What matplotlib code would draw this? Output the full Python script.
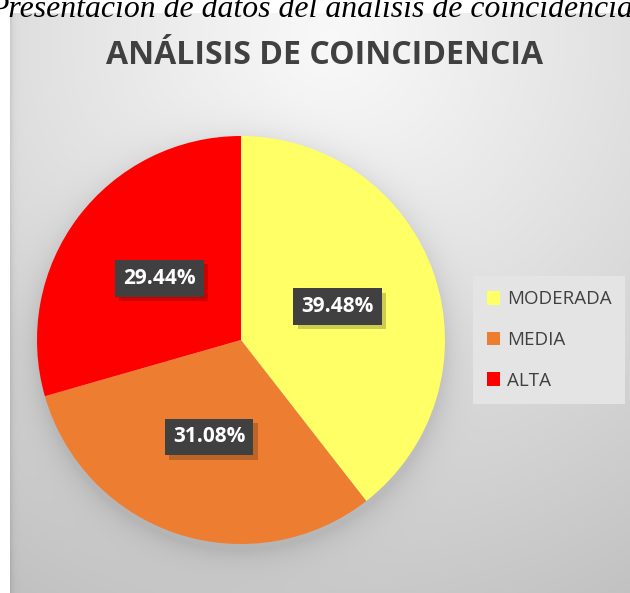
import numpy as np
import matplotlib
matplotlib.use("Agg")
import matplotlib.pyplot as plt
import matplotlib.patheffects as pe

# Coincidence levels and their share of the total
categories = ["MODERADA", "MEDIA", "ALTA"]
shares = [39.48, 31.08, 29.44]
colors = ["#FFFF66", "#ED7D31", "#FF0000"]

caption = "Presentación de datos del análisis de coincidencia"
title = "ANÁLISIS DE COINCIDENCIA"

W, H = 630, 593
fig = plt.figure(figsize=(W / 100, H / 100), dpi=100)
fig.patch.set_facecolor("white")

# caption line above the chart frame (top is clipped by the page edge)
fig.text(311 / W, 1 - 17 / H, caption, ha="center", va="baseline",
         fontsize=22.9, style="italic", family="Liberation Serif", color="black")

# chart frame with a radial gray gradient
fx0, fy0 = 10, 13
bg_ax = fig.add_axes([fx0 / W, 0, 1 - fx0 / W, 1 - fy0 / H])
bg_ax.set_axis_off()
yy, xx = np.mgrid[fy0:H, fx0:W].astype(float)
r = np.hypot(xx - 330, (yy - 40) * 1.0)
shade = 0.975 - 0.22 * np.clip(r / 640, 0, 1) ** 1.1
# soft shadow around the pie
pcx, pcy, prad = 241, 346, 204
d = np.hypot(xx - pcx, yy - pcy) - prad
shade -= 0.09 * np.exp(-np.clip(d, 0, None) / 14) * (d > -30)
# thin darker edge on the left side of the frame
shade -= 0.08 * np.exp(-(xx - fx0) / 3)
img = np.dstack([shade] * 3)
bg_ax.imshow(np.clip(img, 0, 1), aspect="auto", interpolation="bilinear")

# title
fig.text(0.515, 1 - 56 / H, title, ha="center", va="center",
         fontsize=23, fontweight="bold", family="Open Sans", color="#404040")

# pie
cx, cy, rad = 241, 340, 204
ax = fig.add_axes([(cx - rad) / W, (H - cy - rad) / H, 2 * rad / W, 2 * rad / H])
wedges, _, autotexts = ax.pie(
    shares, colors=colors, startangle=90, counterclock=False,
    autopct=lambda p: f"{p:.2f}%", pctdistance=0.5, radius=1,
    wedgeprops=dict(linewidth=0),
)
ax.set_xlim(-1, 1)
ax.set_ylim(-1, 1)
ax.set_aspect("equal")

for t in autotexts:
    t.set_color("white")
    t.set_fontsize(15)
    t.set_fontweight("bold")
    t.set_family("Open Sans")
    t.set_bbox(dict(boxstyle="square,pad=0.38", facecolor="#404040",
                    edgecolor="none",
                    path_effects=[pe.SimplePatchShadow(offset=(3, -3), alpha=0.2,
                                                       shadow_rgbFace="black"),
                                  pe.Normal()]))

# legend
leg = fig.legend(wedges, categories, loc="center left",
                 bbox_to_anchor=(473 / W, 1 - 340 / H), borderaxespad=0,
                 frameon=True, fancybox=False, handlelength=0.7, handleheight=0.7,
                 handletextpad=0.35, labelspacing=1.2, borderpad=0.75,
                 prop=dict(family="Open Sans", size=13.5))
leg.get_frame().set_facecolor("#e4e4e4")
leg.get_frame().set_edgecolor("none")
leg.get_frame().set_alpha(1)
for t in leg.get_texts():
    t.set_color("#404040")

fig.savefig("out.png", dpi=100)
